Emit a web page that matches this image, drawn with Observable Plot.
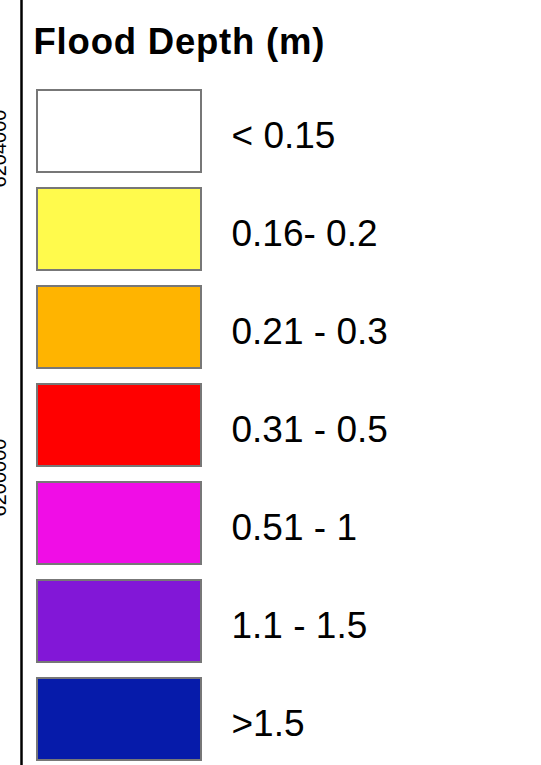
<!DOCTYPE html>
<html>
<head>
<meta charset="utf-8">
<script src="https://cdn.jsdelivr.net/npm/d3@7"></script>
<script src="https://cdn.jsdelivr.net/npm/@observablehq/plot@0.6"></script>
<style>
  html, body { margin: 0; padding: 0; background: #fff; }
  svg { display: block; font-family: "Liberation Sans", Arial, sans-serif; }
  g[font-weight="bold"] text { letter-spacing: 0.8px; }
</style>
</head>
<body>
<div id="chart"></div>
<script>
const title = "Flood Depth (m)";
const classLabels = ["< 0.15", "0.16- 0.2", "0.21 - 0.3", "0.31 - 0.5", "0.51 - 1", "1.1 - 1.5", ">1.5"];
const classColors = ["#FFFFFF", "#FFFA4C", "#FFB400", "#FF0000", "#F00DE6", "#8217D7", "#061BAA"];
const axisLabels = ["6204000", "6200000"];
const axisLabelOffsets = [148, 477];

const rows = classLabels.map((label, i) => ({label, color: classColors[i]}));

const chart = Plot.plot({
  width: 541,
  height: 765,
  margin: 0,
  style: {fontFamily: "'Liberation Sans', Arial, sans-serif", background: "#fff"},
  x: {type: "identity"},
  y: {type: "band", domain: classLabels, range: [87, 762], paddingInner: 0.147, paddingOuter: 0, axis: null},
  color: {type: "identity"},
  marks: [
    Plot.barX(rows, {x1: 37, x2: 201, y: "label", fill: "color", stroke: "#777", strokeWidth: 2, insetTop: 1, insetBottom: 1}),
    Plot.text(rows, {x: 231, y: "label", text: "label", fill: "#000", fontSize: 37, textAnchor: "start", dy: 5}),
    Plot.text([title], {frameAnchor: "top-left", dx: 33, dy: 28, lineAnchor: "top", fontSize: 36.5, fontWeight: "bold", fill: "#000", textAnchor: "start"}),
    Plot.ruleX([21], {stroke: "#000", strokeWidth: 2.5}),
    ...axisLabels.map((t, i) => Plot.text([t], {frameAnchor: "top-left", dx: 5, dy: axisLabelOffsets[i], rotate: -90, fontSize: 20, fill: "#000", textAnchor: "middle", lineAnchor: "bottom"}))
  ]
});
document.getElementById("chart").appendChild(chart);
</script>
</body>
</html>
